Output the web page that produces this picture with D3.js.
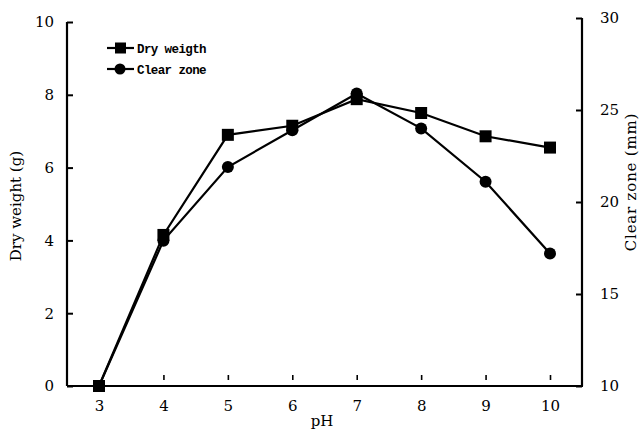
<!DOCTYPE html>
<html><head><meta charset="utf-8">
<script src="https://cdn.jsdelivr.net/npm/d3@7"></script>
<style>body{margin:0;background:#fff}svg{display:block}</style>
</head><body>
<svg id="c" width="642" height="432"></svg>
<script>
const phValues = [3, 4, 5, 6, 7, 8, 9, 10];
const dryWeight = [0, 4.15, 6.9, 7.15, 7.88, 7.5, 6.86, 6.55];
const clearZone = [10, 17.9, 21.9, 23.9, 25.9, 24.0, 21.1, 17.2];
const leftTicks = [0, 2, 4, 6, 8, 10];
const rightTicks = [10, 15, 20, 25, 30];
const seriesNames = ["Dry weigth", "Clear zone"];

const svg = d3.select("#c");
const font = "DejaVu Serif, serif";
const x = d3.scaleLinear().domain([3, 10]).range([99, 550]);
const yL = d3.scaleLinear().domain([0, 10]).range([386, 22]);
const yR = d3.scaleLinear().domain([10, 30]).range([386, 18]);
const axL = 67, axR = 582, axB = 386;

// left axis
const gL = svg.append("g").attr("transform", `translate(${axL},0)`);
gL.call(d3.axisLeft(yL).tickValues(leftTicks).tickSizeInner(-6).tickSizeOuter(0).tickPadding(13).tickFormat(d3.format("d")));
// right axis
const gR = svg.append("g").attr("transform", `translate(${axR},0)`);
gR.call(d3.axisRight(yR).tickValues(rightTicks).tickSizeInner(-6).tickSizeOuter(0).tickPadding(18).tickFormat(d3.format("d")));
// bottom axis
const gB = svg.append("g").attr("transform", `translate(0,${axB})`);
gB.call(d3.axisBottom(x).tickValues(phValues).tickSize(0).tickPadding(14).tickFormat(d3.format("d")));
gB.select(".domain").remove();
svg.append("line").attr("x1", axL).attr("x2", axR + 1).attr("y1", axB).attr("y2", axB)
  .attr("stroke", "#000").attr("stroke-width", 2.2);
gB.selectAll(".tick").append("line").attr("y1", -11).attr("y2", -6)
  .attr("stroke", d => d === 3 ? "none" : "#000").attr("stroke-width", 1.6);

[gL, gR, gB].forEach(g => {
  g.selectAll(".domain").attr("stroke-width", 2.2);
  g.selectAll(".tick line").attr("stroke-width", g === gB ? 1.6 : 2);
  g.selectAll("text").attr("font-family", font).attr("font-size", 15).attr("fill", "#000");
});
gL.select(".domain").attr("d", `M0,${yL(10)}V${axB}`);
gR.select(".domain").attr("d", `M0,${yR(30)}V${axB}`);

// titles
svg.append("text").attr("transform", "translate(21,206) rotate(-90)").attr("text-anchor", "middle")
  .attr("font-family", font).attr("font-size", 15).text("Dry weight (g)");
svg.append("text").attr("transform", "translate(636,182) rotate(-90)").attr("text-anchor", "middle")
  .attr("font-family", font).attr("font-size", 15).attr("letter-spacing", 0.8).text("Clear zone (mm)");
svg.append("text").attr("x", 322).attr("y", 426).attr("text-anchor", "middle")
  .attr("font-family", font).attr("font-size", 15).text("pH");

// lines
const dataDW = phValues.map((p, i) => [x(p), yL(dryWeight[i])]);
const dataCZ = phValues.map((p, i) => [x(p), yR(clearZone[i])]);
const line = d3.line();
svg.append("path").attr("d", line(dataCZ)).attr("fill", "none").attr("stroke", "#000").attr("stroke-width", 2.2);
svg.append("path").attr("d", line(dataDW)).attr("fill", "none").attr("stroke", "#000").attr("stroke-width", 2.2);
svg.selectAll(".cz").data(dataCZ).join("circle").attr("cx", d => d[0]).attr("cy", d => d[1]).attr("r", 6).attr("fill", "#000");
svg.selectAll(".dw").data(dataDW).join("rect").attr("x", d => d[0] - 6).attr("y", d => d[1] - 6)
  .attr("width", 12).attr("height", 12).attr("fill", "#000");

// legend
const lg = svg.append("g");
seriesNames.forEach((n, i) => {
  const yy = 48 + i * 21;
  lg.append("line").attr("x1", 107).attr("x2", 134).attr("y1", yy).attr("y2", yy).attr("stroke", "#000").attr("stroke-width", 2.2);
  if (i === 0) lg.append("rect").attr("x", 115).attr("y", yy - 5.5).attr("width", 11).attr("height", 11).attr("fill", "#000");
  else lg.append("circle").attr("cx", 120).attr("cy", yy).attr("r", 5.5).attr("fill", "#000");
  lg.append("text").attr("x", 137).attr("y", yy + 5).attr("font-family", "Liberation Mono, monospace")
    .attr("font-weight", "bold").attr("font-size", 12.5).attr("letter-spacing", -0.6).text(n);
});
</script>
</body></html>
